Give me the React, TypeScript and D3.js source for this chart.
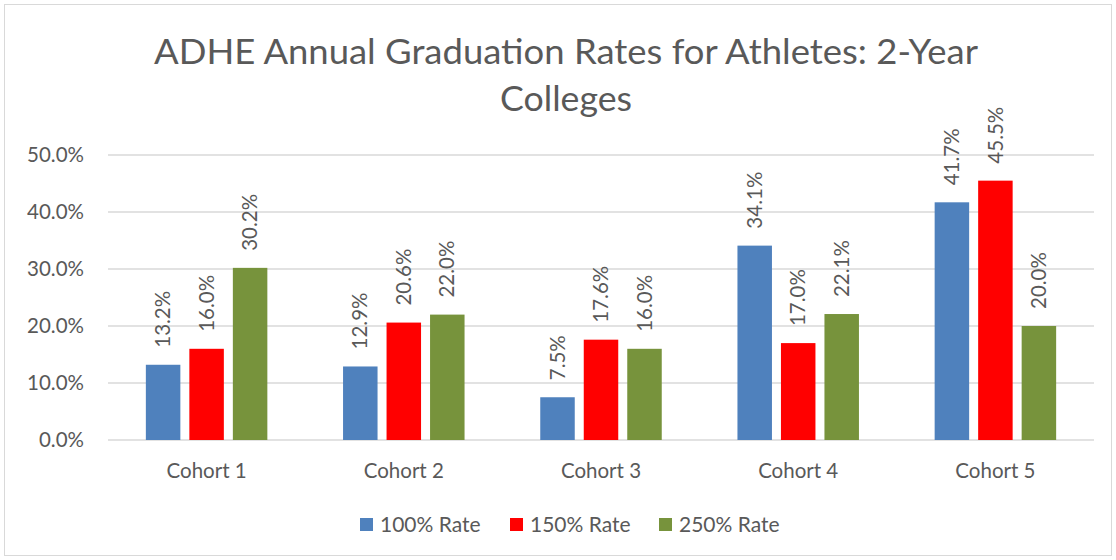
import React from "react";
import * as d3 from "d3";

const categories = ["Cohort 1", "Cohort 2", "Cohort 3", "Cohort 4", "Cohort 5"];
const seriesNames = ["100% Rate", "150% Rate", "250% Rate"];
const rate100 = [13.2, 12.9, 7.5, 34.1, 41.7];
const rate150 = [16.0, 20.6, 17.6, 17.0, 45.5];
const rate250 = [30.2, 22.0, 16.0, 22.1, 20.0];
const yTicks = [0, 10, 20, 30, 40, 50];
const colors = ["#4F81BD", "#FF0000", "#77933C"];

const W = 1116;
const H = 560;
const FONT = "Lato, 'Open Sans', sans-serif";
const TXT = "#595959";

export default function App() {
  const series = [rate100, rate150, rate250];
  const x = d3.scaleBand<string>().domain(categories).range([108, 1094]).padding(0);
  const y = d3.scaleLinear().domain([0, 50]).range([440, 155]);
  const inner = d3
    .scaleBand<string>()
    .domain(seriesNames)
    .range([-65.25, 65.25])
    .paddingInner(0.207)
    .paddingOuter(0.1035);

  const legendX = [360, 510, 659];

  return (
    <svg
      width={W}
      height={H}
      style={{ position: "absolute", left: 0, top: 0, fontFamily: FONT }}
    >
      <rect x={0} y={0} width={W} height={H} fill="#fff" />
      <rect x={4.5} y={4.5} width={W - 9} height={H - 9} fill="#fff" stroke="#D9D9D9" strokeWidth={1} />
      <text x={566} y={64} textAnchor="middle" fontSize={34} fill={TXT} textLength={824} lengthAdjust="spacingAndGlyphs">
        ADHE Annual Graduation Rates for Athletes: 2-Year
      </text>
      <text x={566} y={111} textAnchor="middle" fontSize={34} fill={TXT} textLength={132} lengthAdjust="spacingAndGlyphs">
        Colleges
      </text>
      {yTicks.map((t) => (
        <g key={t}>
          <line x1={108} x2={1094} y1={y(t)} y2={y(t)} stroke="#D9D9D9" strokeWidth={1.3} />
          <text x={84} y={y(t)} dy="0.35em" textAnchor="end" fontSize={20.5} fill={TXT}>
            {t.toFixed(1)}%
          </text>
        </g>
      ))}
      {categories.map((c, ci) => {
        const cx = (x(c) as number) + x.bandwidth() / 2;
        return (
          <g key={c}>
            {series.map((s, si) => {
              const bx = cx + (inner(seriesNames[si]) as number);
              const v = s[ci];
              return (
                <g key={si}>
                  <rect
                    x={bx}
                    y={y(v)}
                    width={inner.bandwidth()}
                    height={y(0) - y(v)}
                    fill={colors[si]}
                  />
                  <text
                    transform={`translate(${bx + inner.bandwidth() / 2},${y(v) - 17}) rotate(-90)`}
                    dy="0.35em"
                    fontSize={20.5}
                    fill={TXT}
                  >
                    {v.toFixed(1)}%
                  </text>
                </g>
              );
            })}
            <text x={cx} y={478} textAnchor="middle" fontSize={20.5} fill={TXT}>
              {c}
            </text>
          </g>
        );
      })}
      {seriesNames.map((n, i) => (
        <g key={n}>
          <rect x={legendX[i]} y={518} width={13} height={13} fill={colors[i]} />
          <text x={legendX[i] + 20} y={525} dy="0.35em" fontSize={21} fill={TXT}>
            {n}
          </text>
        </g>
      ))}
    </svg>
  );
}
